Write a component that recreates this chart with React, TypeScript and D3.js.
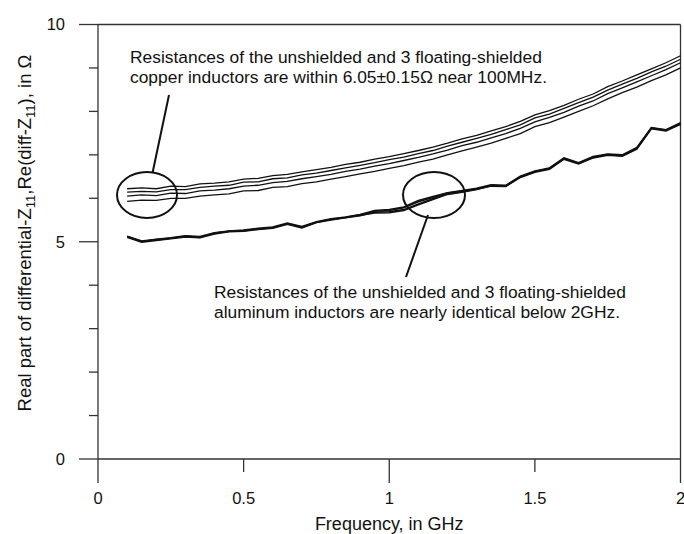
import React from "react";
import * as d3 from "d3";

const freq = [0.10,0.15,0.20,0.25,0.30,0.35,0.40,0.45,0.50,0.55,0.60,0.65,0.70,0.75,0.80,0.85,0.90,0.95,1.00,1.05,1.10,1.15,1.20,1.25,1.30,1.35,1.40,1.45,1.50,1.55,1.60,1.65,1.70,1.75,1.80,1.85,1.90,1.95,2.00];

const copper1 = [6.22,6.24,6.22,6.28,6.27,6.33,6.35,6.38,6.44,6.46,6.52,6.55,6.61,6.66,6.71,6.78,6.83,6.90,6.96,7.03,7.10,7.18,7.27,7.37,7.45,7.55,7.65,7.77,7.92,8.02,8.14,8.28,8.40,8.57,8.70,8.84,8.98,9.12,9.28];
const copper2 = [6.14,6.16,6.15,6.20,6.20,6.25,6.28,6.30,6.37,6.38,6.45,6.47,6.54,6.58,6.64,6.70,6.76,6.82,6.89,6.95,7.03,7.10,7.20,7.29,7.38,7.47,7.58,7.69,7.85,7.94,8.07,8.20,8.33,8.49,8.63,8.76,8.91,9.04,9.20];
const copper3 = [6.05,6.08,6.06,6.12,6.11,6.17,6.19,6.22,6.28,6.30,6.36,6.39,6.45,6.50,6.55,6.62,6.67,6.74,6.80,6.87,6.94,7.02,7.11,7.21,7.29,7.39,7.49,7.61,7.76,7.86,7.98,8.12,8.24,8.41,8.54,8.68,8.82,8.96,9.12];
const copper4 = [5.93,5.96,5.95,6.00,6.00,6.05,6.08,6.10,6.17,6.18,6.25,6.27,6.34,6.38,6.44,6.50,6.56,6.62,6.69,6.75,6.83,6.90,7.00,7.09,7.18,7.27,7.38,7.49,7.65,7.74,7.87,8.00,8.13,8.29,8.43,8.56,8.71,8.84,9.00];

const alum1 = [5.12,5.00,5.05,5.08,5.13,5.10,5.20,5.24,5.25,5.30,5.32,5.42,5.33,5.45,5.52,5.56,5.62,5.70,5.72,5.78,5.92,6.02,6.12,6.16,6.22,6.30,6.28,6.50,6.62,6.68,6.92,6.80,6.95,7.00,6.98,7.15,7.62,7.56,7.72];
const alum2 = [5.10,4.99,5.03,5.07,5.11,5.09,5.18,5.23,5.24,5.28,5.31,5.40,5.32,5.44,5.50,5.55,5.60,5.68,5.69,5.74,5.87,5.99,6.10,6.15,6.21,6.28,6.27,6.48,6.60,6.67,6.90,6.79,6.93,6.99,6.97,7.13,7.60,7.55,7.70];
const alum3 = [5.13,5.02,5.06,5.09,5.14,5.12,5.21,5.25,5.27,5.31,5.34,5.43,5.35,5.46,5.53,5.57,5.63,5.72,5.74,5.80,5.95,6.04,6.13,6.18,6.23,6.31,6.30,6.51,6.63,6.70,6.93,6.82,6.96,7.02,7.00,7.17,7.63,7.58,7.74];
const alum4 = [5.11,5.01,5.04,5.08,5.12,5.11,5.19,5.24,5.26,5.29,5.33,5.41,5.34,5.45,5.51,5.56,5.61,5.66,5.67,5.72,5.85,5.97,6.09,6.14,6.20,6.29,6.29,6.49,6.61,6.69,6.91,6.81,6.94,7.01,6.99,7.14,7.61,7.57,7.71];

const xTicks = [0, 0.5, 1, 1.5, 2];
const xTickLabels = ["0", "0.5", "1", "1.5", "2"];
const yTicks = [0,1,2,3,4,5,6,7,8,9,10];
const yTickLabels: Record<number, string> = { 0: "0", 5: "5", 10: "10" };

const FONT = "'Liberation Sans', Arial, Helvetica, sans-serif";

export default function App() {
  const W = 684, H = 534;
  const left = 98, right = 680.5, top = 24.5, bottom = 459;
  const x = d3.scaleLinear().domain([0, 2]).range([left, right]);
  const y = d3.scaleLinear().domain([0, 10]).range([bottom, top]);
  const line = d3.line<number>().x((_, i) => x(freq[i])).y((d) => y(d));

  const copper = [copper1, copper2, copper3, copper4];
  const alum = [alum1, alum2, alum3, alum4];

  return (
    <svg width={W} height={H} style={{ position: "absolute", left: 0, top: 0, background: "#fff" }} fontFamily={FONT}>
      <rect x={0} y={0} width={W} height={H} fill="#fff" />
      {/* frame */}
      <line x1={left} y1={top} x2={right} y2={top} stroke="#333" strokeWidth={1.3} />
      <line x1={right} y1={top} x2={right} y2={bottom} stroke="#333" strokeWidth={1.3} />
      <line x1={left} y1={top} x2={left} y2={bottom} stroke="#333" strokeWidth={1.3} />
      <line x1={left} y1={bottom} x2={right} y2={bottom} stroke="#333" strokeWidth={1.3} />
      {/* y ticks */}
      {yTicks.map((t) => {
        const major = t % 5 === 0;
        return (
          <g key={"y" + t}>
            <line x1={left - (major ? 19 : 9)} x2={left} y1={y(t)} y2={y(t)} stroke="#333" strokeWidth={1.3} />
            {major && (
              <text x={65} y={y(t)} dy="0.36em" textAnchor="end" fontSize={16.5} fill="#111">
                {yTickLabels[t]}
              </text>
            )}
          </g>
        );
      })}
      {/* x ticks */}
      {xTicks.map((t, i) => {
        const major = Number.isInteger(t);
        return (
          <g key={"x" + t}>
            <line x1={x(t)} x2={x(t)} y1={bottom} y2={bottom + (major ? 24 : 13)} stroke="#333" strokeWidth={1.3} />
            <text x={x(t)} y={503.5} textAnchor="middle" fontSize={16.5} fill="#111">
              {xTickLabels[i]}
            </text>
          </g>
        );
      })}
      <text x={(left + right) / 2} y={530} textAnchor="middle" fontSize={18} fill="#111">
        Frequency, in GHz
      </text>
      <text transform={`translate(31, 233) rotate(-90)`} textAnchor="middle" fontSize={18.5} fill="#111">
        Real part of differential-Z<tspan fontSize={13} dy={4}>11</tspan>
        <tspan dy={-4}>,Re(diff-Z</tspan>
        <tspan fontSize={13} dy={4}>11</tspan>
        <tspan dy={-4}>), in Ω</tspan>
      </text>
      {/* series */}
      {copper.map((s, i) => (
        <path key={"c" + i} d={line(s) || ""} fill="none" stroke="#111" strokeWidth={1.3} />
      ))}
      {alum.map((s, i) => (
        <path key={"a" + i} d={line(s) || ""} fill="none" stroke="#111" strokeWidth={1.5} />
      ))}
      {/* annotations */}
      <ellipse cx={147} cy={195} rx={30} ry={23} fill="none" stroke="#111" strokeWidth={2} />
      <line x1={169} y1={95} x2={152.5} y2={173} stroke="#111" strokeWidth={2} />
      <ellipse cx={434} cy={195} rx={31} ry={23} fill="none" stroke="#111" strokeWidth={2} />
      <line x1={428} y1={215} x2={406} y2={277} stroke="#111" strokeWidth={2} />
      <text x={130} y={63} fontSize={17.4} fill="#111">
        Resistances of the unshielded and 3 floating-shielded
      </text>
      <text x={130} y={83} fontSize={17.4} fill="#111">
        copper inductors are within 6.05±0.15Ω near 100MHz.
      </text>
      <text x={214} y={298} fontSize={17.4} fill="#111">
        Resistances of the unshielded and 3 floating-shielded
      </text>
      <text x={214} y={318} fontSize={17.4} fill="#111">
        aluminum inductors are nearly identical below 2GHz.
      </text>
    </svg>
  );
}
